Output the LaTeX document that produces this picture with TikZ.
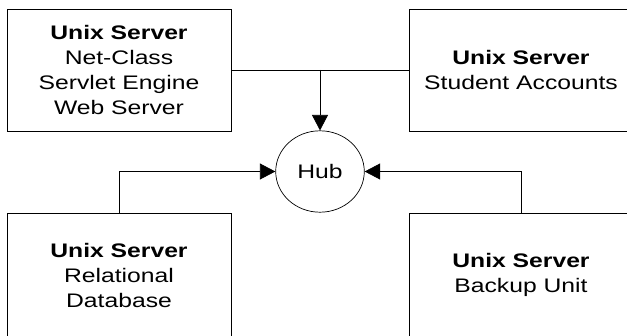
\documentclass[tikz,border=0pt]{standalone}
\usepackage{fontspec}
\setmainfont{Liberation Sans}[FakeStretch=1.26]
\usetikzlibrary{arrows.meta,shapes.geometric}
\begin{document}
\begin{tikzpicture}[x=1pt,y=1pt,
  server/.style={draw=black,line width=0.9pt,minimum width=224pt,align=center,
    inner sep=0pt,font=\fontsize{19.6}{25}\selectfont},
  hubnode/.style={draw=black,line width=0.7pt,ellipse,minimum width=88.6pt,
    minimum height=81.4pt,inner sep=0pt,font=\fontsize{19.6}{22}\selectfont},
  conn/.style={line width=0.8pt},
  arr/.style={conn,-{Triangle[length=15.5pt,width=16pt]}}]
\useasboundingbox (0,0) rectangle (627,335);
\node[server,minimum height=122pt] (tl) at (119,265)
  {\textbf{Unix Server}\\Net-Class\\Servlet Engine\\Web Server};
\node[server,minimum height=122pt] (tr) at (521,265)
  {\textbf{Unix Server}\\Student Accounts};
\node[server,minimum height=124pt] (bl) at (119,60)
  {\textbf{Unix Server}\\Relational\\Database};
\node[server,minimum height=124pt] (br) at (521,60)
  {\textbf{Unix Server}\\Backup Unit};
\node[hubnode] (hub) at (320,163.5) {Hub};
\draw[conn] (tl.east) -- (tr.west);
\coordinate (j) at (hub.north |- tl.east);
\draw[arr] (j) -- (hub.north);
\draw[arr] (bl.north) |- (hub.west);
\draw[arr] (br.north) |- (hub.east);
\end{tikzpicture}
\end{document}
